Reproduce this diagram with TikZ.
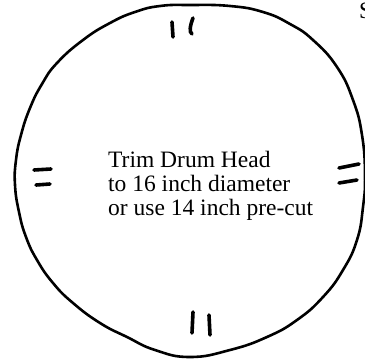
\documentclass[tikz,border=0pt]{standalone}
\usepackage{fontspec}
\setmainfont{Liberation Serif}
\begin{document}
\begin{tikzpicture}[x=1pt,y=-1pt,
  rim/.style={line width=2.6pt,line join=round},
  tick/.style={line width=3.6pt,line cap=round},
  lbl/.style={anchor=base west,inner sep=0pt,font=\fontsize{23.5}{24}\selectfont}]
\useasboundingbox (0,0) rectangle (365,359);
\draw[rim] plot[smooth cycle,tension=0.8] coordinates {
 (190,5) (230,6) (263,12) (290,24) (313,40) (337,67) (353,100) (362,135)
 (365,175) (363,207) (357,240) (343,270) (323,297) (297,320) (267,337)
 (230,350) (190,357) (155,350) (127,337) (100,323) (73,303) (53,283)
 (37,260) (26,237) (19,212) (15,185) (16,160) (21,135) (30,108) (42,84)
 (57,63) (83,40) (110,23) (135,12) (160,6)};
% tick marks
\coordinate (t1a) at (172,22); \coordinate (t1b) at (173,37);
\coordinate (t2a) at (193,18); \coordinate (t2b) at (192,34);
\draw[tick] (t1a) -- (t1b);
\draw[tick] (t2a) .. controls (190,26) and (189,32) .. (t2b);
\coordinate (b1a) at (193,312); \coordinate (b1b) at (192,333);
\coordinate (b2a) at (209,315); \coordinate (b2b) at (210,335);
\draw[tick] (b1a) -- (b1b);
\draw[tick] (b2a) -- (b2b);
\coordinate (l1a) at (34,170); \coordinate (l1b) at (51,169);
\coordinate (l2a) at (36,185); \coordinate (l2b) at (50,184);
\draw[tick] (l1a) -- (l1b);
\draw[tick] (l2a) -- (l2b);
\coordinate (r1a) at (339,168); \coordinate (r1b) at (359,164);
\coordinate (r2a) at (339,183); \coordinate (r2b) at (357,180);
\draw[tick] (r1a) -- (r1b);
\draw[tick] (r2a) -- (r2b);
% text
\node[lbl] (line1) at (108,167) {Trim Drum Head};
\node[lbl] (line2) at (108,191) {to 16 inch diameter};
\node[lbl] (line3) at (108,215) {or use 14 inch pre-cut};
\node[lbl] (s) at (359,18) {S};
\end{tikzpicture}
\end{document}
